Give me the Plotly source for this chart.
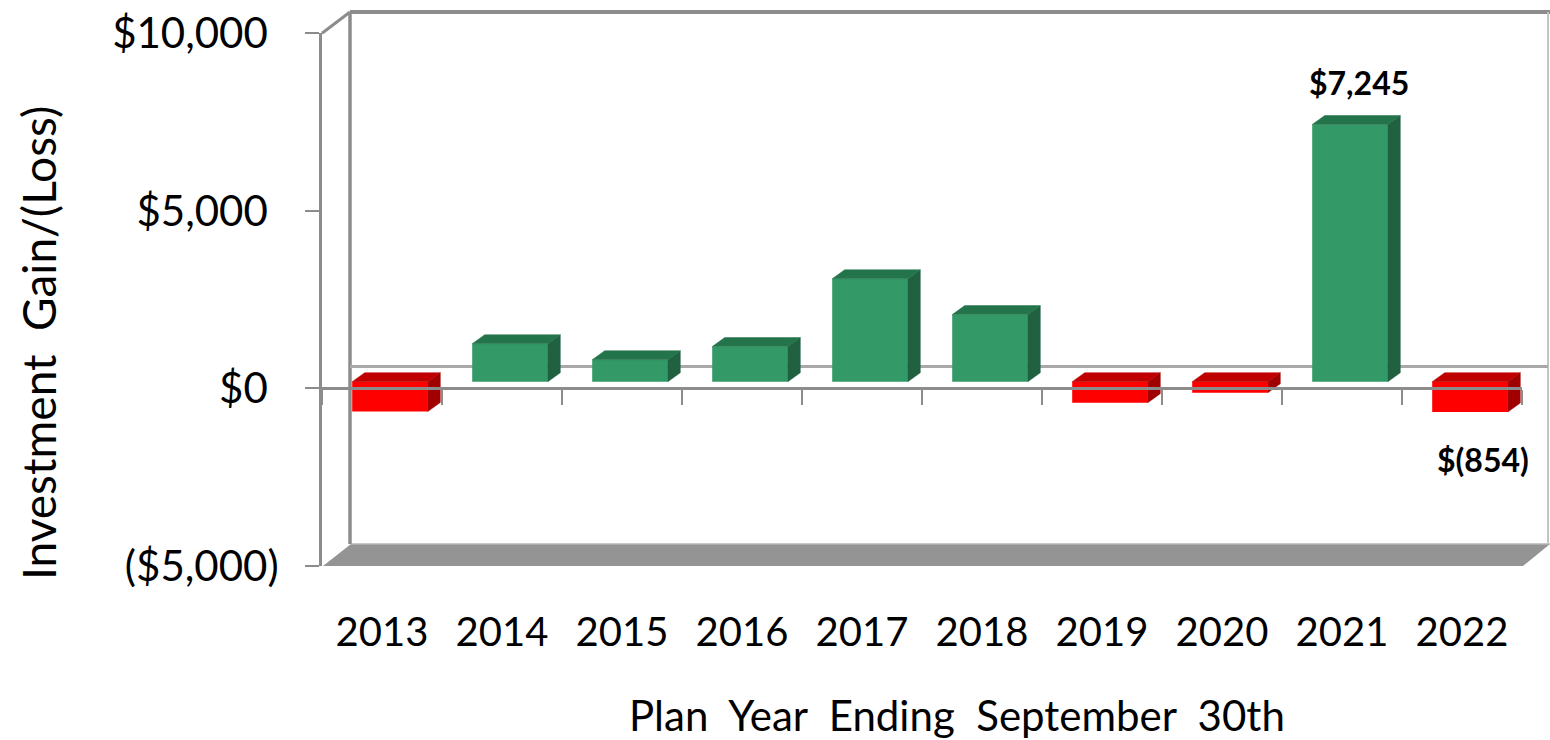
import numpy as np
import plotly.graph_objects as go

# ---------------- data ----------------
years = ["2013", "2014", "2015", "2016", "2017", "2018", "2019", "2020", "2021", "2022"]
gain_loss = [-840, 1070, 620, 990, 2900, 1890, -590, -310, 7245, -854]
y_tick_values = [-5000, 0, 5000, 10000]
y_tick_labels = ["($5,000)", "$0\u00a0", "$5,000\u00a0", "$10,000\u00a0"]
labeled_years = ["2021", "2022"]
x_title = "Plan Year Ending September 30th"
y_title = "Investment Gain/(Loss)"

# ---------------- geometry / style ----------------
W, H = 1550, 740
def fx(px):
    return px / W
def fy(py):
    return 1 - py / H

def wide(s):
    # the original uses generous word spacing
    return s.replace(" ", " \u00a0")

FONT = "Lato"
GRAY = "#8c8c8c"
GREEN, GREEN_TOP, GREEN_SIDE = "#339966", "#24744b", "#1f6141"
RED, RED_TOP, RED_SIDE = "#ff0000", "#c00000", "#a00000"

y_min, y_max = min(y_tick_values), max(y_tick_values)
front_left, front_right = 322, 1522
front_top, front_bottom = 33.3, 565.8
shift_x, shift_y = 8, -6.6          # bar plane sits a little behind the front plane
px_per_cat = (front_right - front_left) / len(years)
px_per_unit = (front_bottom - front_top) / (y_max - y_min)
zero_front_px = front_bottom - (0 - y_min) * px_per_unit
DX = 12.5 / px_per_cat               # bar depth in category units
DY = 9 / px_per_unit                 # bar depth in value units
BAR_W = 0.63

idx = np.arange(len(years))
vals = np.array(gain_loss, dtype=float)
pos = vals >= 0
xr = [-0.5, len(years) - 0.5]

fig = go.Figure()

# front faces
fig.add_trace(go.Bar(
    x=idx, y=vals, width=BAR_W,
    marker=dict(color=[GREEN if p else RED for p in pos], line=dict(width=0)),
    hoverinfo="skip", showlegend=False, xaxis="x", yaxis="y",
))

def faces(mask, top_color, side_color):
    tx, ty, sx, sy = [], [], [], []
    for i, v in zip(idx[mask], vals[mask]):
        lo, hi = min(0.0, v), max(0.0, v)
        l, r = i - BAR_W / 2, i + BAR_W / 2
        tx += [l, r, r + DX, l + DX, l, None]
        ty += [hi, hi, hi + DY, hi + DY, hi, None]
        sx += [r, r + DX, r + DX, r, r, None]
        sy += [lo, lo + DY, hi + DY, hi, lo, None]
    for xs, ys, c in ((sx, sy, side_color), (tx, ty, top_color)):
        fig.add_trace(go.Scatter(
            x=xs, y=ys, mode="lines", fill="toself", fillcolor=c,
            line=dict(width=0.5, color=c), hoverinfo="skip", showlegend=False,
            xaxis="x", yaxis="y",
        ))

faces(pos, GREEN_TOP, GREEN_SIDE)
faces(~pos, RED_TOP, RED_SIDE)

# placeholder traces so the front-plane subplots exist
fig.add_trace(go.Scatter(x=[None], y=[None], xaxis="x2", yaxis="y2", showlegend=False, hoverinfo="skip"))
fig.add_trace(go.Scatter(x=[None], y=[None], xaxis="x3", yaxis="y2", showlegend=False, hoverinfo="skip"))

# data labels
def fmt(v):
    return f"${v:,.0f}" if v >= 0 else f"$({abs(v):,.0f})"

annotations = []
for yr in labeled_years:
    i = years.index(yr)
    v = gain_loss[i]
    if v >= 0:
        annotations.append(dict(x=i + DX / 2, y=v + DY, xref="x", yref="y", text=fmt(v),
                                showarrow=False, yanchor="bottom", yshift=12, xshift=3,
                                font=dict(family=FONT, size=32, color="black", weight="bold")))
    else:
        annotations.append(dict(x=i, y=v, xref="x", yref="y", text=fmt(v),
                                showarrow=False, yanchor="top", yshift=-26, xshift=13,
                                font=dict(family=FONT, size=32, color="black", weight="bold")))

annotations.append(dict(x=fx(957), y=fy(715), xref="paper", yref="paper", text=wide(x_title),
                        showarrow=False, xanchor="center", yanchor="middle",
                        font=dict(family=FONT, size=42, color="black")))
annotations.append(dict(x=fx(38), y=fy(343), xref="paper", yref="paper", text=wide(y_title),
                        showarrow=False, xanchor="center", yanchor="middle", textangle=-90,
                        font=dict(family=FONT, size=46, color="black")))

# walls & floor (layout decoration, pixel geometry)
def seg(x0, y0, x1, y1, color, width):
    return dict(type="line", xref="paper", yref="paper", x0=fx(x0), y0=fy(y0), x1=fx(x1), y1=fy(y1),
                line=dict(color=color, width=width), layer="below")

back_l, back_r, back_t, back_b = 350, 1548, 12, 546
shapes = [
    dict(type="path", xref="paper", yref="paper", layer="below",
         path=f"M{fx(323)},{fy(566)} L{fx(1523)},{fy(566)} L{fx(1550)},{fy(544)} L{fx(351)},{fy(544)} Z",
         fillcolor="#949494", line=dict(width=0)),
    seg(351, 544, 1550, 544, "#b5b5b5", 1.5),
    seg(back_l, back_t, 1550, back_t, GRAY, 4),
    seg(back_l, back_t, back_l, 544, GRAY, 3.5),
    seg(back_r, back_t, back_r, 544, "#c4c4c4", 2),
    seg(front_left, front_top, back_l, back_t, GRAY, 3),
    seg(back_l, 366.5, back_r, 366.5, "#a9a9a9", 3),
]

fig.update_layout(
    width=W, height=H, autosize=False,
    margin=dict(l=0, r=0, t=0, b=0, pad=0),
    paper_bgcolor="white", plot_bgcolor="rgba(0,0,0,0)",
    showlegend=False, barmode="overlay",
    font=dict(family=FONT, color="black"),
    xaxis=dict(domain=[fx(front_left + shift_x), fx(front_right + shift_x)], range=xr,
               visible=False, anchor="y", fixedrange=True, automargin=False),
    yaxis=dict(domain=[fy(front_bottom + shift_y), fy(front_top + shift_y)], range=[y_min, y_max],
               visible=False, anchor="x", fixedrange=True, automargin=False),
    xaxis2=dict(domain=[fx(front_left), fx(front_right)], range=xr, anchor="free",
                position=fy(zero_front_px), showline=True, linecolor=GRAY, linewidth=3,
                ticks="outside", ticklen=15, tickwidth=2, tickcolor=GRAY,
                tickmode="array", tickvals=list(np.append(idx - 0.5, idx[-1] + 0.5)),
                showticklabels=False, showgrid=False, zeroline=False, fixedrange=True,
                automargin=False),
    yaxis2=dict(domain=[fy(front_bottom), fy(front_top)], range=[y_min, y_max], anchor="x2",
                side="left", showline=True, linecolor=GRAY, linewidth=3,
                ticks="outside", ticklen=14, tickwidth=2, tickcolor=GRAY,
                tickmode="array", tickvals=y_tick_values, ticktext=y_tick_labels,
                tickfont=dict(family=FONT, size=42, color="black"), ticklabelstandoff=18,
                showgrid=False, zeroline=False, fixedrange=True, automargin=False),
    xaxis3=dict(overlaying="x2", anchor="y2", range=xr, side="bottom",
                tickmode="array", tickvals=list(idx), ticktext=years, ticks="",
                showline=False, showgrid=False, zeroline=False,
                tickfont=dict(family=FONT, size=40, color="black"), ticklabelstandoff=39,
                fixedrange=True, automargin=False),
    shapes=shapes,
    annotations=annotations,
)

fig.write_html("out.html", config={"displayModeBar": False},
               post_script="document.body.style.margin='0';document.body.style.overflow='hidden';")
